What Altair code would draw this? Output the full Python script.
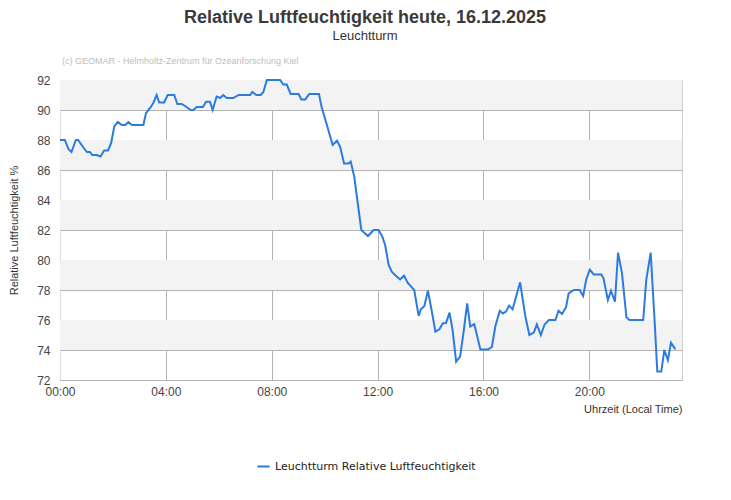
import pandas as pd
import altair as alt

# readings from the reference, local time on 16.12.2025
times = [
    "00:00", "00:11", "00:19", "00:26", "00:36", "00:41", "00:53", "01:01", "01:08", "01:13",
    "01:23", "01:32", "01:40", "01:49", "01:56", "02:03", "02:11", "02:20", "02:28", "02:35",
    "02:43", "03:09", "03:15", "03:26", "03:32", "03:39", "03:45", "03:56", "04:04", "04:19",
    "04:26", "04:36", "04:47", "04:56", "05:02", "05:10", "05:24", "05:31", "05:40", "05:46",
    "05:55", "06:03", "06:10", "06:18", "06:33", "06:45", "07:11", "07:16", "07:25", "07:35",
    "07:41", "07:49", "08:19", "08:26", "08:34", "08:43", "09:01", "09:07", "09:16", "09:25",
    "09:47", "09:53", "10:05", "10:18", "10:28", "10:35", "10:44", "10:54", "10:59", "11:07",
    "11:14", "11:23", "11:38", "11:51", "12:02", "12:10", "12:17", "12:25", "12:32", "12:42",
    "12:51", "13:00", "13:08", "13:16", "13:23", "13:33", "13:38", "13:46", "13:54", "14:03",
    "14:11", "14:20", "14:28", "14:35", "14:43", "14:50", "14:58", "15:07", "15:15", "15:23",
    "15:30", "15:39", "15:53", "16:10", "16:19", "16:27", "16:37", "16:44", "16:51", "16:58",
    "17:06", "17:23", "17:35", "17:44", "17:54", "18:01", "18:10", "18:18", "18:28", "18:43",
    "18:50", "18:58", "19:07", "19:13", "19:25", "19:38", "19:46", "19:53", "20:01", "20:10",
    "20:27", "20:32", "20:42", "20:49", "20:58", "21:05", "21:14", "21:24", "21:31", "22:02",
    "22:09", "22:19", "22:28", "22:34", "22:43", "22:50", "22:58", "23:05", "23:15",
]
humidity = [
    88.0, 88.0, 87.4, 87.2, 88.0, 88.0, 87.5, 87.2, 87.2, 87.0,
    87.0, 86.9, 87.3, 87.3, 87.8, 88.9, 89.2, 89.0, 89.0, 89.2,
    89.0, 89.0, 89.8, 90.2, 90.5, 91.0, 90.5, 90.5, 91.0, 91.0,
    90.4, 90.4, 90.2, 90.0, 90.0, 90.2, 90.2, 90.55, 90.55, 90.0,
    90.9, 90.8, 91.0, 90.8, 90.8, 91.0, 91.0, 91.2, 91.0, 91.0,
    91.2, 92.0, 92.0, 91.7, 91.7, 91.07, 91.07, 90.7, 90.7, 91.07,
    91.07, 90.2, 89.0, 87.67, 87.95, 87.55, 86.44, 86.44, 86.56, 85.56,
    84.0, 82.0, 81.6, 82.0, 82.0, 81.6, 81.0, 79.67, 79.22, 78.93,
    78.7, 78.95, 78.49, 78.22, 78.0, 76.27, 76.71, 76.93, 77.95, 76.55,
    75.22, 75.38, 75.78, 75.8, 76.49, 75.33, 73.22, 73.56, 75.22, 77.11,
    75.56, 75.73, 74.04, 74.04, 74.2, 75.6, 76.62, 76.44, 76.56, 76.96,
    76.71, 78.51, 76.22, 75.0, 75.16, 75.71, 75.0, 75.67, 76.0, 76.0,
    76.62, 76.4, 76.84, 77.78, 78.0, 78.0, 77.6, 78.71, 79.35, 79.04,
    79.04, 78.78, 77.33, 77.95, 77.22, 80.49, 79.11, 76.18, 76.0, 76.0,
    78.67, 80.49, 75.89, 72.56, 72.56, 74.0, 73.33, 74.49, 74.04,
]
series_name = "Leuchtturm Relative Luftfeuchtigkeit"
y_ticks = [72, 74, 76, 78, 80, 82, 84, 86, 88, 90, 92]
x_tick_hours = [0, 4, 8, 12, 16, 20]
band_low = [74, 78, 82, 86, 90]
band_high = [76, 80, 84, 88, 92]
note = "(c) GEOMAR - Helmholtz-Zentrum für Ozeanforschung Kiel"

df = pd.DataFrame({
    "zeit": ["2025-12-16T" + t + ":00" for t in times],
    "wert": humidity,
    "serie": series_name,
})
bands = pd.DataFrame({"lo": band_low, "hi": band_high})

BLUE = "#2b7be0"
x_scale = alt.Scale(domain=[alt.DateTime(year=2025, month=12, date=16, hours=0),
                            alt.DateTime(year=2025, month=12, date=16, hours=23, minutes=30)])
y_scale = alt.Scale(domain=[72, 92], nice=False)
y_axis = alt.Axis(values=y_ticks, title="Relative Luftfeuchtigkeit %",
                  titleX=-41, titleY=150, titleAlign="center", labelPadding=10,
                  labelFlush=False, labelOverlap=False,
                  gridColor={"condition": {"test": "datum.value >= 92", "value": "#dddddd"},
                             "value": "#b4b4b4"})

# grey stripes behind the line
bg = alt.Chart(bands).mark_rect(color="#f3f3f3").encode(
    y=alt.Y("lo:Q", scale=y_scale, axis=y_axis),
    y2="hi:Q",
)

line = alt.Chart(df).mark_line(strokeWidth=2, interpolate="linear").encode(
    x=alt.X("zeit:T", scale=x_scale,
            axis=alt.Axis(values=[alt.DateTime(year=2025, month=12, date=16, hours=h) for h in x_tick_hours],
                          format="%H:%M", title="Uhrzeit (Local Time)",
                          titleAnchor="end", titleAlign="right", titlePadding=6,
                          labelPadding=6, labelFlush=False, labelOverlap=False,
                          gridColor={"condition": {"test": "hours(datum.value) == 0", "value": "#dddddd"},
                                     "value": "#b4b4b4"})),
    y=alt.Y("wert:Q", scale=y_scale, axis=y_axis),
    color=alt.Color("serie:N", scale=alt.Scale(range=[BLUE]),
                    legend=alt.Legend(title=None, orient="none", legendX=196, legendY=379,
                                      symbolType="stroke", symbolSize=150, symbolStrokeWidth=2,
                                      labelLimit=400,
                                      labelFont="DejaVu Sans", labelFontSize=11, labelColor="#222222")),
)

copy_note = alt.Chart(pd.DataFrame({"txt": [note]})).mark_text(
    align="left", baseline="alphabetic", fontSize=9, color="#bdbdbd", font="Liberation Sans"
).encode(text="txt:N", x=alt.value(2), y=alt.value(-16))

chart = alt.layer(bg, line, copy_note).properties(
    width=622,
    height=300,
    autosize=alt.AutoSizeParams(type="none"),
    padding={"left": 52, "top": 72, "right": 41, "bottom": 100},
    title=alt.TitleParams(
        text="Relative Luftfeuchtigkeit heute, 16.12.2025",
        subtitle="Leuchtturm",
        font="Liberation Sans", fontSize=18, fontWeight="bold", color="#3a3a3a",
        subtitleFont="Liberation Sans", subtitleFontSize=13, subtitleColor="#333333",
        subtitlePadding=3, anchor="middle", offset=14, dx=-6,
    ),
).configure_view(
    stroke="#d0d0d0"
).configure_axis(
    labelFont="Liberation Sans", labelFontSize=12, labelColor="#444444",
    titleFont="Liberation Sans", titleFontSize=11, titleColor="#333333", titleFontWeight="normal",
    ticks=False, domain=False, grid=True,
)

chart.save("out.html", embed_options={"renderer": "svg", "actions": False})
